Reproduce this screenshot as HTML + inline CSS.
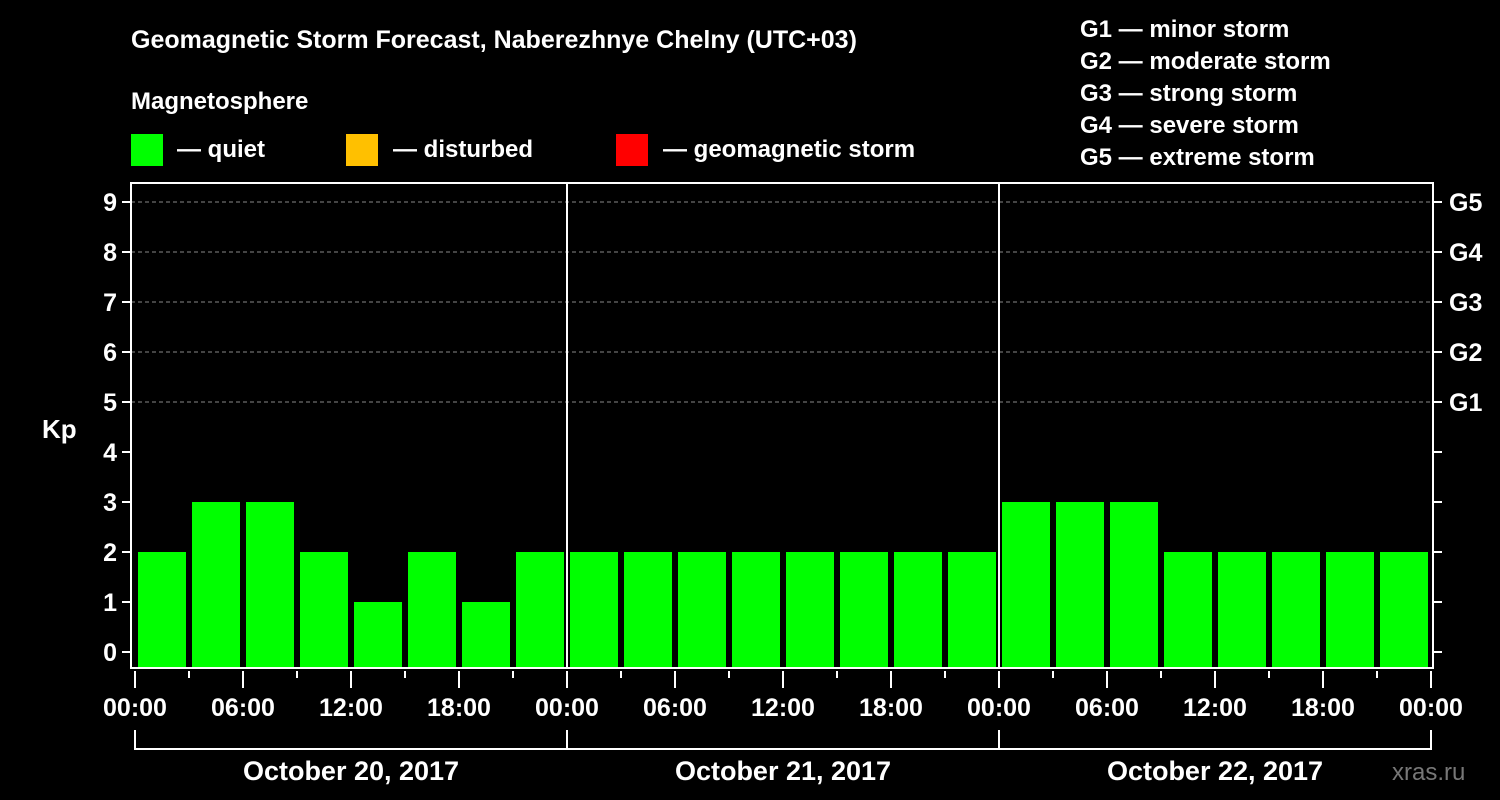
<!DOCTYPE html>
<html><head><meta charset="utf-8"><style>
body{margin:0;background:#000;width:1500px;height:800px;overflow:hidden}
svg{display:block;font-family:"Liberation Sans",Arial,sans-serif;font-weight:bold}
</style></head><body>
<svg id="c" width="1500" height="800">
<rect width="1500" height="800" fill="#000"/>
<text x="131" y="48" fill="#fff" font-size="25">Geomagnetic Storm Forecast, Naberezhnye Chelny (UTC+03)</text>
<text x="131" y="109" fill="#fff" font-size="24">Magnetosphere</text>
<g><rect x="131" y="134" width="32" height="32" fill="#00ff00"/><text x="177" y="157" fill="#fff" font-size="24">— quiet</text></g>
<g><rect x="346" y="134" width="32" height="32" fill="#ffc000"/><text x="393" y="157" fill="#fff" font-size="24">— disturbed</text></g>
<g><rect x="616" y="134" width="32" height="32" fill="#ff0000"/><text x="663" y="157" fill="#fff" font-size="24">— geomagnetic storm</text></g>
<g fill="#fff" font-size="24">
<text x="1080" y="37">G1 — minor storm</text><text x="1080" y="69">G2 — moderate storm</text><text x="1080" y="101">G3 — strong storm</text><text x="1080" y="133">G4 — severe storm</text><text x="1080" y="165">G5 — extreme storm</text></g>
<text x="42" y="438" fill="#fff" font-size="26">Kp</text>
<text x="1392" y="780" fill="#777" font-size="24" font-weight="normal">xras.ru</text>
<g id="plot"></g>
</svg>
<script>
const kpValues=[2,3,3,2,1,2,1,2, 2,2,2,2,2,2,2,2, 3,3,3,2,2,2,2,2];
const yTicks=[0,1,2,3,4,5,6,7,8,9];
const gLabels=["","","","","","G1","G2","G3","G4","G5"];
const xTickLabels=["00:00","06:00","12:00","18:00","00:00","06:00","12:00","18:00","00:00","06:00","12:00","18:00","00:00"];
const dayLabels=["October 20, 2017","October 21, 2017","October 22, 2017"];
const NS="http://www.w3.org/2000/svg";
const g=document.getElementById('plot');
const x=h=>135+h*18;
const y=v=>652-v*50;
const L=131,R=1433,T=183,B=668;
function mk(t,a,p){const e=document.createElementNS(NS,t);for(const k in a)e.setAttribute(k,a[k]);(p||g).appendChild(e);return e;}
yTicks.forEach((v,i)=>{
 if(v>=5){const l=mk('line',{x1:L,x2:R,y1:y(v),y2:y(v),stroke:'#888','stroke-dasharray':'4,3','stroke-width':1});
 
 }
 const t1=mk('line',{x1:L-9,x2:L,y1:y(v),y2:y(v),stroke:'#fff','stroke-width':2});
 
 
 const t2=mk('line',{x1:R,x2:R+9,y1:y(v),y2:y(v),stroke:'#fff','stroke-width':2});
 
 
 const tx=mk('text',{x:L-14,y:y(v)+9,fill:'#fff','font-size':25,'text-anchor':'end'});tx.textContent=v;
 
 
 if(gLabels[i]){const gt=mk('text',{x:R+16,y:y(v)+9,fill:'#fff','font-size':25});gt.textContent=gLabels[i];
 
 }
});
kpValues.forEach((v,i)=>{
 const c=v>=5?'#ff0000':(v>=4?'#ffc000':'#00ff00');
 const r=mk('rect',{x:x(i*3)+3,y:y(v),width:48,height:B-y(v),fill:c});
 
 
});
const f=mk('rect',{x:L,y:T,width:R-L,height:B-T,fill:'none',stroke:'#fff','stroke-width':2});


for(let d=1;d<3;d++){const l=mk('line',{x1:x(d*24),x2:x(d*24),y1:T,y2:B,stroke:'#fff','stroke-width':2});
 
 }
for(let h=0;h<=72;h+=3){const maj=h%6===0;
 const l=mk('line',{x1:x(h),x2:x(h),y1:B+3,y2:maj?B+20:B+10,stroke:'#fff','stroke-width':2});
 
 }
xTickLabels.forEach((s,i)=>{const t=mk('text',{x:x(i*6),y:716,fill:'#fff','font-size':25,'text-anchor':'middle'});t.textContent=s;
 
 });
dayLabels.forEach((s,i)=>{
 const p=mk('path',{d:`M${x(i*24)},730V749H${x(i*24+24)}`+(i===2?`V730`:''),stroke:'#fff','stroke-width':2,fill:'none'});
 
 
 const t=mk('text',{x:x(i*24+12),y:780,fill:'#fff','font-size':27,'text-anchor':'middle'});t.textContent=s;
 
 });
</script>
</body></html>
